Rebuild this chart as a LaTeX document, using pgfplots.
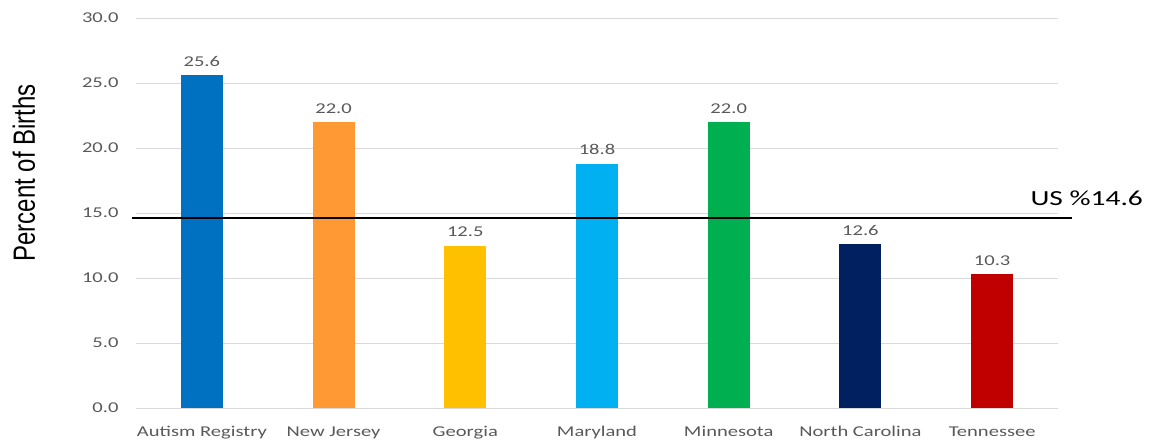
\documentclass[border=0pt]{standalone}
\usepackage{fontspec}
\setmainfont[FakeStretch=1.37]{Carlito}
\newfontfamily\arialf{Liberation Sans}
\usepackage{pgfplots}
\pgfplotsset{compat=1.18}
\definecolor{cA}{HTML}{0070C0}
\definecolor{cB}{HTML}{FF9933}
\definecolor{cC}{HTML}{FFC000}
\definecolor{cD}{HTML}{00B0F0}
\definecolor{cE}{HTML}{00B050}
\definecolor{cF}{HTML}{002060}
\definecolor{cG}{HTML}{C00000}
\definecolor{tickgray}{HTML}{595959}
\definecolor{gridgray}{HTML}{D9D9D9}
\begin{document}
\begin{tikzpicture}
\useasboundingbox (-136pt,-32pt) rectangle (1016pt,408pt);
\begin{axis}[
  at={(0pt,0pt)}, anchor=south west,
  scale only axis, width=922pt, height=390pt,
  xmin=-0.5, xmax=6.5, ymin=0, ymax=30,
  ytick={0,5,...,30},
  xtick={0,1,2,3,4,5,6},
  xticklabels={Autism Registry,New Jersey,Georgia,Maryland,Minnesota,North Carolina,Tennessee},
  axis line style={draw=none},
  major tick length=0pt,
  ymajorgrids, grid style={gridgray, line width=1pt},
  /pgf/number format/assume math mode=true,
  yticklabel style={/pgf/number format/fixed, /pgf/number format/fixed zerofill, /pgf/number format/precision=1, font=\fontsize{15}{18}\selectfont, text=tickgray, xshift=-14pt},
  xticklabel style={font=\fontsize{15}{18}\selectfont, text=tickgray, yshift=-15pt},
  ylabel={\arialf\scalebox{1}[1.28]{Percent of Births}},
  every axis y label/.style={at={(rel axis cs:0,0.603)}, xshift=-112pt, rotate=90, anchor=center, font=\fontsize{24}{28}\selectfont},
  ybar, bar width=42pt,
  nodes near coords,
  nodes near coords style={/pgf/number format/fixed, /pgf/number format/fixed zerofill, /pgf/number format/precision=1, font=\fontsize{15}{18}\selectfont, text=tickgray, yshift=5pt},
  clip=false,
]
\addplot[bar shift=0pt, fill=cA, draw=none] coordinates {(0,25.6)};
\addplot[bar shift=0pt, fill=cB, draw=none] coordinates {(1,22.0)};
\addplot[bar shift=0pt, fill=cC, draw=none] coordinates {(2,12.5)};
\addplot[bar shift=0pt, fill=cD, draw=none] coordinates {(3,18.8)};
\addplot[bar shift=0pt, fill=cE, draw=none] coordinates {(4,22.0)};
\addplot[bar shift=0pt, fill=cF, draw=none] coordinates {(5,12.6)};
\addplot[bar shift=0pt, fill=cG, draw=none] coordinates {(6,10.3)};
\addplot[sharp plot, no marks, black, line width=1.8pt, nodes near coords={}] coordinates {(-0.53,14.6) (6.61,14.6)};
\node[anchor=base west, inner sep=0pt, font=\fontsize{21.5}{24}\selectfont, text=black] at (axis cs:6.29,15.6) {US \%14.6};
\end{axis}
\end{tikzpicture}
\end{document}
